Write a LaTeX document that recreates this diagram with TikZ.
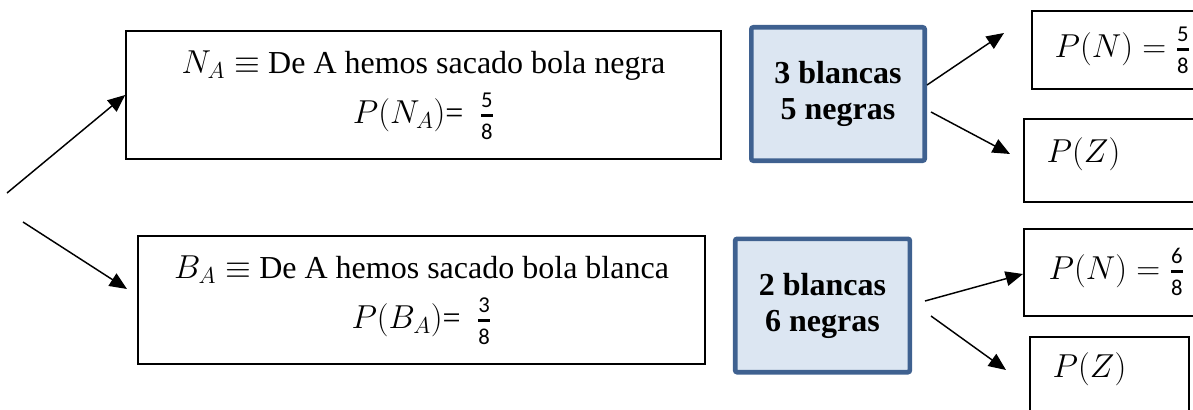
\documentclass[tikz,border=0pt]{standalone}
\usepackage{amsmath}
\usepackage{amssymb}
\usepackage{fontspec}
\setmainfont{Liberation Serif}
\setsansfont{Carlito}
\usetikzlibrary{arrows.meta, positioning}
\definecolor{urnline}{HTML}{3F6190}
\definecolor{urnfill}{HTML}{DCE6F2}
\newcommand{\frc}[2]{\genfrac{}{}{2pt}{1}%
  {\text{\sffamily\fontsize{17}{17}\selectfont #1\rule[-3pt]{0pt}{3pt}}}%
  {\text{\sffamily\fontsize{17}{17}\selectfont\rule{0pt}{15pt}#2}}}
\tikzset{
every node/.style={font=\fontsize{24}{30}\selectfont}, % Word-like text size
box/.style={draw, line width=1.5pt, align=center, inner sep=0pt}, % plain black frames
urn/.style={draw=urnline, line width=3.5pt, fill=urnfill, rounded corners=1.5pt,
  align=center, inner sep=0pt, font=\fontsize{24}{27}\selectfont\bfseries}, % the urn after the first draw
arr/.style={-{Triangle[length=13pt,width=11pt]}, line width=1.1pt}, % the branch arrows
}

\begin{document}
\begin{tikzpicture}[x=0.75pt, y=-0.75pt]
        \useasboundingbox (0,0) rectangle (1193,410);
        % first draw from urn A
        \node[box, minimum width=446pt, minimum height=96pt] (na) at (423.5,95)
        {$N_A\equiv$ De A hemos sacado bola negra\\[8pt] $P(N_A)$=~ $\frc{5}{8}$};
        \node[box, minimum width=425pt, minimum height=96pt] (ba) at (421.5,300)
        {$B_A\equiv$ De A hemos sacado bola blanca\\[8pt] $P(B_A)$=~ $\frc{3}{8}$};
        % urn B after each case
        \node[urn, minimum width=130pt, minimum height=100pt] (urn1) at (838,94)
        {3 blancas\\5 negras};
        \node[urn, minimum width=131pt, minimum height=100pt] (urn2) at (822.5,305.5)
        {2 blancas\\6 negras};
        % second draw (boxes run off the page)
        \node[box, minimum width=171pt, minimum height=58.5pt] (pn1) at (1146,50) {};
        \node[box, minimum width=177pt, minimum height=62pt] (pz1) at (1142,160.5) {};
        \node[box, minimum width=177pt, minimum height=65pt] (pn2) at (1142,272.5) {};
        \node[box, minimum width=119pt, minimum height=92pt] (pz2) at (1109.5,398.5) {};
        \node[anchor=west] (pn1t) at (1050,50) {$P(N)=\frc{5}{8}$};
        \node[anchor=west] (pz1t) at (1042,154) {$P(Z)$};
        \node[anchor=west] (pn2t) at (1044,272) {$P(N)=\frc{6}{8}$};
        \node[anchor=west] (pz2t) at (1048,369) {$P(Z)$};
        % arrows
        \coordinate (s1) at (7,193);
        \coordinate (s2) at (23,222);
        \coordinate (e2) at (127,289);
        \coordinate (u1a) at (927,85);
        \coordinate (u1b) at (931,112);
        \coordinate (e3) at (1004,33);
        \coordinate (e4) at (1010,154);
        \coordinate (u2a) at (925,301);
        \coordinate (u2b) at (931,316);
        \coordinate (e5) at (1023,274);
        \coordinate (e6) at (1006,370);
        \draw[arr] (s1) -- (na.west);
        \draw[arr] (s2) -- (e2);
        \draw[arr] (u1a) -- (e3);
        \draw[arr] (u1b) -- (e4);
        \draw[arr] (u2a) -- (e5);
        \draw[arr] (u2b) -- (e6);
    \end{tikzpicture}
\end{document}
